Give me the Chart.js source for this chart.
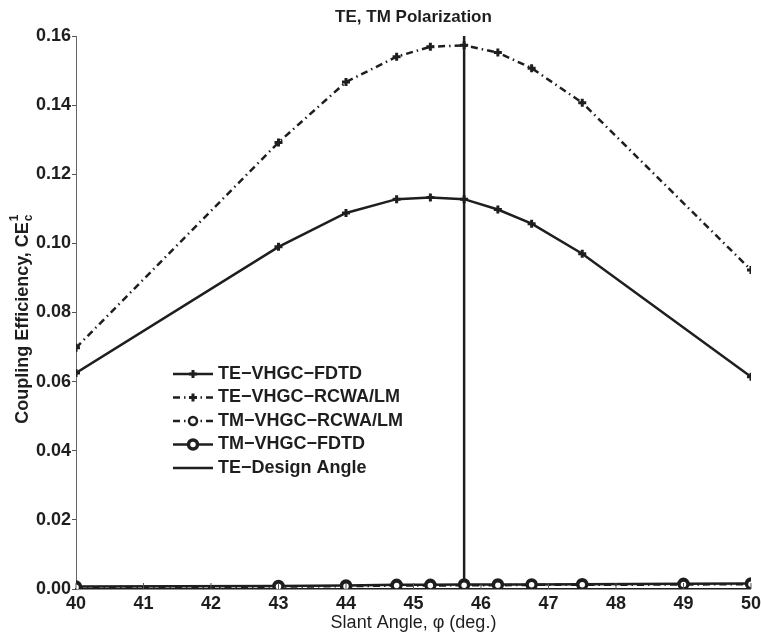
<!DOCTYPE html>
<html>
<head>
<meta charset="utf-8">
<script src="https://cdn.jsdelivr.net/npm/chart.js@4.4.1/dist/chart.umd.min.js"></script>
<style>
  html, body { margin: 0; padding: 0; background: #fff; }
  #wrap { width: 761px; height: 637px; }
</style>
</head>
<body>
<div id="wrap"><canvas id="ce-chart" width="761" height="637"></canvas></div>
<script>
// slant angles (deg.)
const teAngles = [40, 43, 44, 44.75, 45.25, 45.75, 46.25, 46.75, 47.5, 50];
const tmAngles = [40, 43, 44, 44.75, 45.25, 45.75, 46.25, 46.75, 47.5, 49, 50];

// coupling efficiency values
const teFdtd = [0.0625, 0.0990, 0.1088, 0.1128, 0.1133, 0.1128, 0.1098, 0.1057, 0.0970, 0.0614];
const teRcwa = [0.0698, 0.1292, 0.1467, 0.1540, 0.1569, 0.1573, 0.1552, 0.1507, 0.1407, 0.0923];
const tmRcwa = [0.0005, 0.0007, 0.0008, 0.0010, 0.0010, 0.0011, 0.0011, 0.0012, 0.0012, 0.0013, 0.0014];
const tmFdtd = [0.0007, 0.0009, 0.0010, 0.0012, 0.0012, 0.0013, 0.0013, 0.0013, 0.0014, 0.0015, 0.0016];

const designAngle = 45.75;
const designRange = [0, 0.16];

const seriesLabels = ['TE\u2212VHGC\u2212FDTD', 'TE\u2212VHGC\u2212RCWA/LM', 'TM\u2212VHGC\u2212RCWA/LM', 'TM\u2212VHGC\u2212FDTD', 'TE\u2212Design Angle'];

const FONT = "'Liberation Sans', Arial, Helvetica, sans-serif";
const INK = '#1e1e1e';
const dashDot = [7, 4, 1.5, 4];

const pts = (xs, ys) => xs.map((x, i) => ({ x: x, y: ys[i] }));

// title, y-axis label (with super/subscript) and in-plot legend
const decorations = {
  id: 'decorations',
  afterDraw(chart) {
    const ctx = chart.ctx;
    const area = chart.chartArea;
    ctx.save();
    ctx.fillStyle = INK;

    // title
    ctx.font = 'bold 17px ' + FONT;
    ctx.textAlign = 'center';
    ctx.textBaseline = 'middle';
    ctx.fillText('TE, TM Polarization', (area.left + area.right) / 2, 17);

    // y label
    ctx.save();
    ctx.translate(23, 318);
    ctx.rotate(-Math.PI / 2);
    ctx.font = 'bold 18px ' + FONT;
    const main = 'Coupling Efficiency, CE';
    const w = ctx.measureText(main).width;
    ctx.textAlign = 'left';
    ctx.textBaseline = 'middle';
    const x0 = -(w + 10) / 2;
    ctx.fillText(main, x0, 0);
    ctx.font = 'bold 12px ' + FONT;
    ctx.fillText('1', x0 + w + 1, -8);
    ctx.fillText('c', x0 + w + 1, 6);
    ctx.restore();

    // x ticks point inward, as in the original figure
    const xs = chart.scales.x;
    ctx.strokeStyle = '#555';
    ctx.lineWidth = 1;
    xs.ticks.forEach(t => {
      const px = xs.getPixelForValue(t.value);
      ctx.beginPath();
      ctx.moveTo(px, area.bottom);
      ctx.lineTo(px, area.bottom - 6);
      ctx.stroke();
    });

    // legend
    const lx0 = 173, lx1 = 213, tx = 218;
    const rowY = [374, 397.5, 421, 444.5, 468];
    chart.data.datasets.forEach((ds, i) => {
      const y = rowY[i];
      ctx.save();
      ctx.strokeStyle = INK;
      ctx.lineWidth = ds.borderWidth;
      ctx.setLineDash(ds.borderDash || []);
      ctx.beginPath();
      ctx.moveTo(lx0, y);
      ctx.lineTo(lx1, y);
      ctx.stroke();
      ctx.setLineDash([]);
      if (ds.pointStyle && ds.pointRadius > 0) {
        ctx.fillStyle = ds.pointBackgroundColor;
        ctx.strokeStyle = ds.pointBorderColor;
        ctx.lineWidth = ds.pointBorderWidth;
        Chart.helpers.drawPoint(ctx, {
          pointStyle: ds.pointStyle,
          radius: ds.pointRadius,
          rotation: 0,
          borderWidth: ds.pointBorderWidth
        }, (lx0 + lx1) / 2, y);
      }
      ctx.fillStyle = INK;
      ctx.font = 'bold 18px ' + FONT;
      ctx.textAlign = 'left';
      ctx.textBaseline = 'middle';
      ctx.fillText(ds.label, tx, y);
      ctx.restore();
    });
    ctx.restore();
  }
};

new Chart(document.getElementById('ce-chart'), {
  type: 'line',
  data: {
    datasets: [
      {
        label: seriesLabels[0],
        data: pts(teAngles, teFdtd),
        borderColor: INK,
        borderWidth: 2.5,
        pointStyle: 'cross',
        pointRadius: 4,
        pointBorderWidth: 3,
        pointBackgroundColor: INK,
        pointBorderColor: INK
      },
      {
        label: seriesLabels[1],
        data: pts(teAngles, teRcwa),
        borderColor: INK,
        borderWidth: 2.5,
        borderDash: dashDot,
        pointStyle: 'cross',
        pointRadius: 4,
        pointBorderWidth: 3,
        pointBackgroundColor: INK,
        pointBorderColor: INK
      },
      {
        label: seriesLabels[2],
        data: pts(tmAngles, tmRcwa),
        borderColor: INK,
        borderWidth: 2.5,
        borderDash: dashDot,
        pointStyle: 'circle',
        pointRadius: 4,
        pointBorderWidth: 2.5,
        pointBackgroundColor: '#fff',
        pointBorderColor: INK
      },
      {
        label: seriesLabels[3],
        data: pts(tmAngles, tmFdtd),
        borderColor: INK,
        borderWidth: 2.5,
        pointStyle: 'circle',
        pointRadius: 4.5,
        pointBorderWidth: 3.5,
        pointBackgroundColor: '#fff',
        pointBorderColor: INK
      },
      {
        label: seriesLabels[4],
        data: designRange.map(v => ({ x: designAngle, y: v })),
        borderColor: INK,
        borderWidth: 2.5,
        pointRadius: 0
      }
    ]
  },
  options: {
    responsive: false,
    animation: false,
    layout: { padding: { top: 36, right: 10, left: 0, bottom: 0 } },
    plugins: {
      legend: { display: false },
      title: { display: false },
      tooltip: { enabled: false }
    },
    scales: {
      x: {
        type: 'linear',
        min: 40,
        max: 50,
        border: { color: INK, width: 1.5 },
        grid: { display: true, drawOnChartArea: false, tickLength: 4, tickColor: 'rgba(0,0,0,0)' },
        ticks: {
          stepSize: 1,
          color: INK,
          padding: 0,
          font: { family: FONT, size: 18, weight: 'bold' }
        },
        title: {
          display: true,
          text: 'Slant Angle, \u03c6 (deg.)',
          color: INK,
          padding: { top: 0, bottom: 3 },
          font: { family: FONT, size: 18 }
        },
        afterFit(scale) { scale.height = 48; }
      },
      y: {
        min: 0,
        max: 0.16,
        border: { color: '#666', width: 1 },
        grid: { display: true, drawOnChartArea: false, tickLength: 4, color: '#555' },
        ticks: {
          stepSize: 0.02,
          color: INK,
          padding: 1,
          font: { family: FONT, size: 18, weight: 'bold' },
          callback: v => v.toFixed(2)
        },
        afterFit(scale) { scale.width = 76; }
      }
    }
  },
  plugins: [decorations]
});
</script>
</body>
</html>
